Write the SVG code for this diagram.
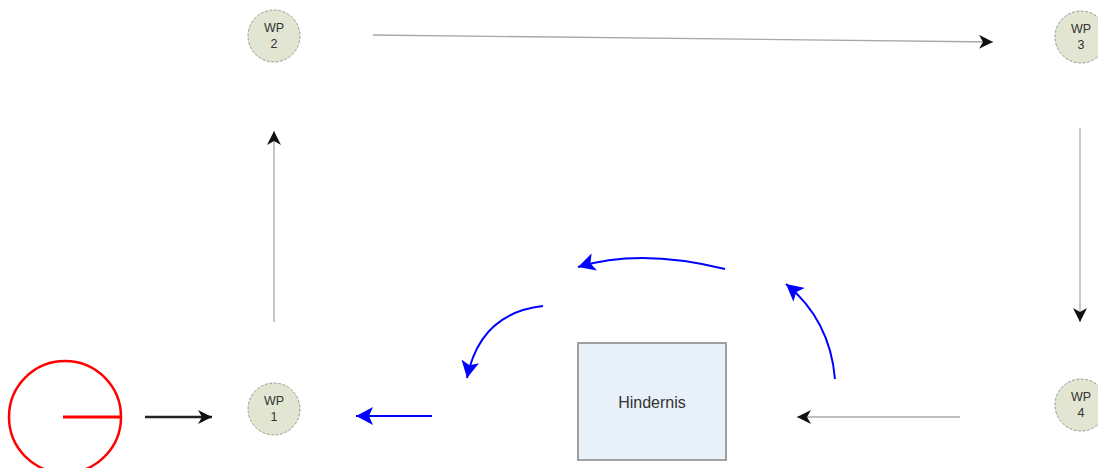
<svg xmlns="http://www.w3.org/2000/svg" width="1098" height="468" viewBox="0 0 1098 468">
  <style>
    .wp circle { fill: #e2e5d2; stroke: #9a9a90; stroke-width: 1; stroke-dasharray: 3 1.5; }
    .wp text { font-family: "Liberation Sans", Arial, sans-serif; font-size: 12.5px; fill: #333; text-anchor: middle; }
    .gray { fill: none; stroke: #a8a8a8; stroke-width: 1.3; }
    .blue { fill: none; stroke: #0000ff; stroke-width: 2; }
    .black { fill: none; stroke: #222; stroke-width: 2.5; }
  </style>
  <defs>
    <marker id="ah-black" markerUnits="userSpaceOnUse" markerWidth="16" markerHeight="14" refX="14" refY="7" orient="auto">
      <path d="M0,0 L14,7 L0,14 L4,7 Z" fill="#111"/>
    </marker>
    <marker id="ah-blue" markerUnits="userSpaceOnUse" markerWidth="20" markerHeight="18" refX="17" refY="9" orient="auto">
      <path d="M0,0 L17,9 L0,18 L4,9 Z" fill="#0000ff"/>
    </marker>
  </defs>

  <rect width="1098" height="468" fill="#ffffff"/>

  <!-- robot start position -->
  <g id="robot">
    <circle cx="65" cy="417" r="56" fill="none" stroke="#ff0000" stroke-width="2.5"/>
    <line x1="63" y1="417" x2="121" y2="417" stroke="#ff0000" stroke-width="3"/>
  </g>

  <!-- waypoints -->
  <g id="wp1" class="wp">
    <circle cx="274" cy="409" r="26"/>
    <text x="274" y="405">WP</text>
    <text x="274" y="421">1</text>
  </g>
  <g id="wp2" class="wp">
    <circle cx="274" cy="36" r="26"/>
    <text x="274" y="32">WP</text>
    <text x="274" y="48">2</text>
  </g>
  <g id="wp3" class="wp">
    <circle cx="1081" cy="37" r="26"/>
    <text x="1081" y="33">WP</text>
    <text x="1081" y="49">3</text>
  </g>
  <g id="wp4" class="wp">
    <circle cx="1081" cy="405" r="26"/>
    <text x="1081" y="401">WP</text>
    <text x="1081" y="417">4</text>
  </g>

  <!-- obstacle -->
  <g id="hindernis">
    <rect x="578" y="343" width="148" height="117" fill="#e8f0fa" stroke="#a0a0a0" stroke-width="2"/>
    <text x="652" y="408" font-family="Liberation Sans, Arial, sans-serif" font-size="16" fill="#333" text-anchor="middle">Hindernis</text>
  </g>

  <!-- connectors -->
  <g id="connectors">
    <line class="black" x1="145" y1="417" x2="212" y2="417" marker-end="url(#ah-black)"/>
    <line class="gray" x1="274" y1="322" x2="274" y2="131" marker-end="url(#ah-black)"/>
    <line class="gray" x1="373" y1="35" x2="993" y2="42" stroke="#666" marker-end="url(#ah-black)"/>
    <line class="gray" x1="1080" y1="128" x2="1080" y2="322" marker-end="url(#ah-black)"/>
    <line class="gray" x1="960" y1="417" x2="797" y2="417" marker-end="url(#ah-black)"/>
    <path class="blue" d="M835,379 Q830,320 786,284" marker-end="url(#ah-blue)"/>
    <path class="blue" d="M725,269 Q640,248 578,267" marker-end="url(#ah-blue)"/>
    <path class="blue" d="M543,306 Q480,313 467,378" marker-end="url(#ah-blue)"/>
    <line class="blue" x1="432" y1="416" x2="356" y2="416" stroke-width="3" marker-end="url(#ah-blue)"/>
  </g>
</svg>
